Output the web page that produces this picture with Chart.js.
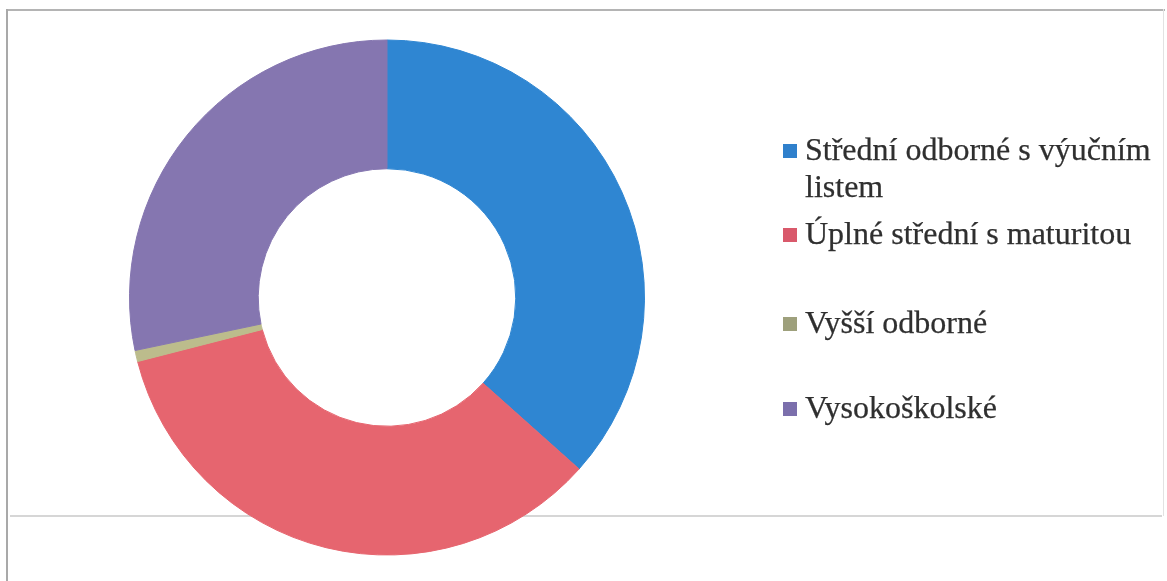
<!DOCTYPE html>
<html lang="cs">
<head>
<meta charset="utf-8">
<title>Vzdělání</title>
<script src="https://cdn.jsdelivr.net/npm/chart.js@4.4.1/dist/chart.umd.min.js"></script>
<style>
  html, body { margin: 0; padding: 0; background: #fff; }
  body { width: 1167px; height: 581px; position: relative; overflow: hidden; }
  .rule { position: absolute; }
  #frame-top { left: 6px; top: 9px; width: 1159px; height: 2px; background: #b4b4b4; }
  #frame-left { left: 6px; top: 9px; width: 2px; height: 572px; background: #a9a9a9; }
  #frame-right { left: 1163px; top: 9px; width: 1px; height: 507px; background: #e2e2e2; }
  #frame-bottom { left: 10px; top: 515px; width: 1152px; height: 2px; background: #d6d6d6; }
  #chart { position: absolute; left: 0; top: 0; }
  .item {
    position: absolute; left: 805px; width: 355px;
    font-family: "Liberation Serif", "Times New Roman", serif;
    font-size: 32px; line-height: 37px; color: #2f2f2f;
    -webkit-text-stroke: 0.25px #2f2f2f;
  }
  .swatch { position: absolute; left: -22px; width: 14px; height: 14px; -webkit-text-stroke: 0; }
</style>
</head>
<body>
<div class="rule" id="frame-top"></div>
<div class="rule" id="frame-left"></div>
<div class="rule" id="frame-right"></div>
<div class="rule" id="frame-bottom"></div>
<canvas id="chart" width="1167" height="581"></canvas>
<div id="legend"></div>
<script>
// Nejvyšší dosažené vzdělání (podíl v %)
const categories = [
  "Střední odborné s výučním listem",
  "Úplné střední s maturitou",
  "Vyšší odborné",
  "Vysokoškolské"
];
const shares = [36.6, 34.4, 0.7, 28.3];
const sliceColors = ["#2f86d2", "#e6656f", "#bcbc8c", "#8576b0"];
const swatchColors = ["#2f80cc", "#d9596b", "#9ea07c", "#7b6fac"];

// baseline (px from top) of the first text line of each legend entry
const legendBaselines = [160, 244, 333, 418];

new Chart(document.getElementById("chart"), {
  type: "doughnut",
  data: {
    labels: categories,
    datasets: [{
      data: shares,
      backgroundColor: sliceColors,
      borderColor: sliceColors,
      borderWidth: 1
    }]
  },
  options: {
    responsive: false,
    animation: false,
    cutout: "50%",
    layout: { padding: { left: 129, right: 522, top: 39, bottom: 25 } },
    plugins: {
      legend: { display: false },
      tooltip: { enabled: false }
    }
  }
});

// Legend as HTML text next to the ring
const legend = document.getElementById("legend");
const firstLineBaseline = 29.3; // baseline offset inside a 37px line box at 32px
categories.forEach((label, i) => {
  const item = document.createElement("div");
  item.className = "item";
  item.style.top = (legendBaselines[i] - firstLineBaseline) + "px";
  const sw = document.createElement("span");
  sw.className = "swatch";
  sw.style.background = swatchColors[i];
  sw.style.top = (firstLineBaseline - 16) + "px";
  item.appendChild(sw);
  item.appendChild(document.createTextNode(label));
  legend.appendChild(item);
});
</script>
</body>
</html>
